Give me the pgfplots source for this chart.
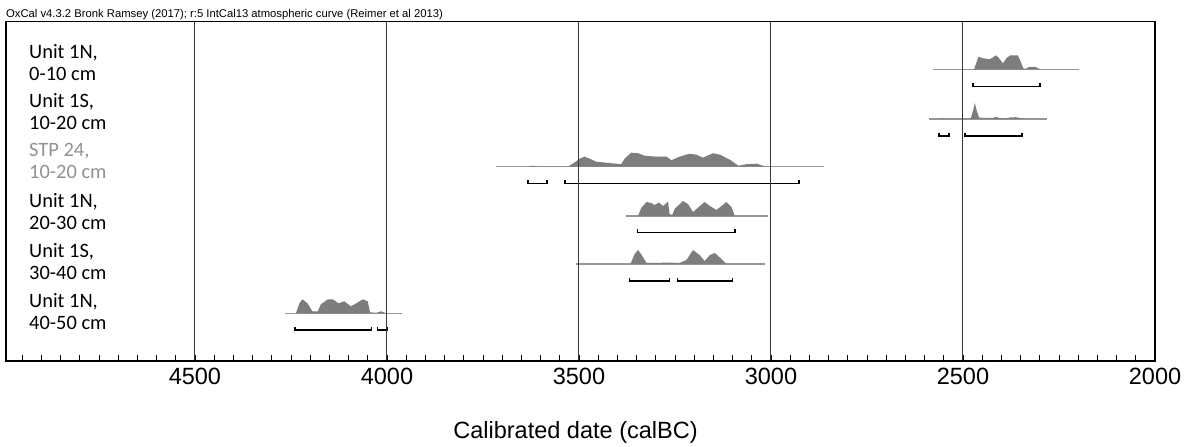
\documentclass[border=0pt]{standalone}
\usepackage{fontspec}
\setmainfont{Liberation Sans}
\newfontfamily\carlito{Carlito}
\usepackage{pgfplots}
\pgfplotsset{compat=1.18}
\definecolor{densgray}{RGB}{125,125,125}
\definecolor{basegray}{RGB}{150,150,150}
\definecolor{gridgray}{RGB}{55,55,55}
\definecolor{labgray}{RGB}{145,145,145}
\begin{document}
\begin{tikzpicture}
\useasboundingbox (-6bp,-86.3bp) rectangle (1186bp,360.7bp);
\begin{axis}[
  scale only axis, width=1149bp, height=339bp,
  x dir=reverse, xmin=2000, xmax=4992, ymin=0, ymax=339,
  axis on top,
  ytick=\empty,
  xtick={2000,2500,3000,3500,4000,4500},
  minor xtick={2050,2100,...,4950},
  tick align=inside, xtick pos=bottom,
  major tick length=0pt, minor tick length=6bp,
  minor tick style={black, line width=0.8bp},
  xmajorgrids=true,
  major grid style={gridgray, line width=1bp},
  axis line style={black, line width=1.6bp},
  /pgf/number format/assume math mode=true,
  /pgf/number format/1000 sep={},
  xticklabel style={font=\fontsize{23.6}{28}\selectfont, anchor=north, inner sep=0pt, yshift=-7.3bp},
  xlabel={Calibrated date (calBC)},
  xlabel style={font=\fontsize{23.6}{28}\selectfont, at={(axis description cs:0.5,0)}, anchor=north, inner sep=0pt, yshift=-60.3bp, xshift=-5bp},
]
% ---------- Row 1: Unit 1N, 0-10 cm (baseline 291.4)
\addplot[basegray, line width=1.1bp] coordinates {(2578,291.4) (2198,291.4)};
\addplot[fill=densgray, draw=none] table[row sep=\\, y expr=\thisrow{h}+291.4]{
yr h\\ 2471 0\\ 2460 12.5\\ 2447 11\\ 2430 10\\ 2422 12\\ 2414 14\\ 2406 11\\ 2396 6\\ 2387 11\\ 2377 14\\ 2357 14\\ 2350 8\\ 2343 1\\ 2337 0.5\\ 2327 2.5\\ 2312 2.5\\ 2299 0\\};
\addplot[black, line width=1.4bp] coordinates {(2474,277.4) (2474,274) (2299,274) (2299,277.4)};
% ---------- Row 2: Unit 1S, 10-20 cm (baseline 241.7)
\addplot[basegray, line width=1.1bp] coordinates {(2589,241.7) (2281,241.7)};
\addplot[fill=densgray, draw=none] table[row sep=\\, y expr=\thisrow{h}+241.7]{
yr h\\ 2562 0\\ 2552 1\\ 2542 0\\ 2480 0.5\\ 2474 8\\ 2469 16\\ 2464 8\\ 2458 1.5\\ 2442 1\\ 2422 1\\ 2414 2.3\\ 2406 1\\ 2392 0.5\\ 2377 1.5\\ 2362 1.8\\ 2352 1\\ 2342 0\\};
\addplot[black, line width=1.4bp] coordinates {(2562,228.1) (2562,224.7) (2536,224.7) (2536,228.1)};
\addplot[black, line width=1.4bp] coordinates {(2495,228.1) (2495,224.7) (2346,224.7) (2346,228.1)};
% ---------- Row 3: STP 24, 10-20 cm (baseline 194)
\addplot[basegray, line width=1.1bp] coordinates {(3717,194) (2862,194)};
\addplot[fill=densgray, draw=none] table[row sep=\\, y expr=\thisrow{h}+194]{
yr h\\ 3637 0\\ 3620 1\\ 3603 0\\ 3529 0\\ 3516 3\\ 3498 8\\ 3485 10\\ 3472 8\\ 3455 5\\ 3429 4\\ 3403 3\\ 3390 2.5\\ 3381 8\\ 3364 14\\ 3346 13.5\\ 3329 11\\ 3298 10\\ 3272 10\\ 3259 6.5\\ 3238 10\\ 3212 13\\ 3194 12\\ 3177 9\\ 3151 13.5\\ 3133 12\\ 3107 7\\ 3085 1\\ 3064 2.5\\ 3038 3\\ 3020 1\\ 3012 0\\};
\addplot[black, line width=1.4bp] coordinates {(3633,180.8) (3633,177.4) (3583,177.4) (3583,180.8)};
\addplot[black, line width=1.4bp] coordinates {(3536,180.8) (3536,177.4) (2927,177.4) (2927,180.8)};
% ---------- Row 4: Unit 1N, 20-30 cm (baseline 144.7)
\addplot[basegray, line width=1.1bp] coordinates {(3377,144.7) (3007,144.7)};
\addplot[fill=densgray, draw=none] table[row sep=\\, y expr=\thisrow{h}+144.7]{
yr h\\ 3346 0\\ 3338 8\\ 3324 14\\ 3312 13\\ 3303 11\\ 3292 13.5\\ 3281 10\\ 3268 14.5\\ 3264 2\\ 3257 1\\ 3251 7\\ 3229 15\\ 3216 12\\ 3203 4\\ 3194 7\\ 3173 14\\ 3155 9\\ 3142 6\\ 3116 14\\ 3103 9\\ 3094 0\\};
\addplot[black, line width=1.4bp] coordinates {(3347,131.4) (3347,128) (3094,128) (3094,131.4)};
% ---------- Row 5: Unit 1S, 30-40 cm (baseline 96.7)
\addplot[basegray, line width=1.1bp] coordinates {(3507,96.7) (3016,96.7)};
\addplot[fill=densgray, draw=none] table[row sep=\\, y expr=\thisrow{h}+96.7]{
yr h\\ 3366 0\\ 3355 10\\ 3346 14\\ 3335 8\\ 3324 1\\ 3298 1\\ 3272 1.5\\ 3238 1\\ 3220 4\\ 3203 14\\ 3186 9\\ 3173 3\\ 3159 9\\ 3146 11\\ 3129 5\\ 3116 0\\};
\addplot[black, line width=1.4bp] coordinates {(3368,83.1) (3368,79.7) (3264,79.7) (3264,83.1)};
\addplot[black, line width=1.4bp] coordinates {(3244,83.1) (3244,79.7) (3100,79.7) (3100,83.1)};
% ---------- Row 6: Unit 1N, 40-50 cm (baseline 47.4)
\addplot[basegray, line width=1.1bp] coordinates {(4266,47.4) (3961,47.4)};
\addplot[fill=densgray, draw=none] table[row sep=\\, y expr=\thisrow{h}+47.4]{
yr h\\ 4237 0\\ 4228 10\\ 4220 14\\ 4207 10\\ 4194 2\\ 4180 2\\ 4172 9\\ 4154 14\\ 4141 14\\ 4126 10\\ 4111 12\\ 4094 7\\ 4080 10\\ 4063 14\\ 4050 12\\ 4044 1\\ 4028 0.5\\ 4015 2\\ 4002 0\\};
\addplot[black, line width=1.4bp] coordinates {(4239,34.1) (4239,30.7) (4040,30.7) (4040,34.1)};
\addplot[black, line width=1.4bp] coordinates {(4024,34.1) (4024,30.7) (4000,30.7) (4000,34.1)};
% ---------- labels
\begin{scope}[every node/.style={anchor=west, align=left, inner sep=0pt, font=\carlito\fontsize{20.5}{22}\selectfont}]
\node at (axis cs:4932,298) {Unit 1N,\\0-10 cm};
\node at (axis cs:4932,248.7) {Unit 1S,\\10-20 cm};
\node[text=labgray] at (axis cs:4932,199.7) {STP 24,\\10-20 cm};
\node at (axis cs:4932,148.7) {Unit 1N,\\20-30 cm};
\node at (axis cs:4932,98.7) {Unit 1S,\\30-40 cm};
\node at (axis cs:4932,48.7) {Unit 1N,\\40-50 cm};
\end{scope}
\end{axis}
\node[anchor=base west, inner sep=0pt, font=\fontsize{11.3}{13}\selectfont] at (0bp,342.7bp) {OxCal v4.3.2 Bronk Ramsey (2017); r:5 IntCal13 atmospheric curve (Reimer et al 2013)};
\end{tikzpicture}
\end{document}
